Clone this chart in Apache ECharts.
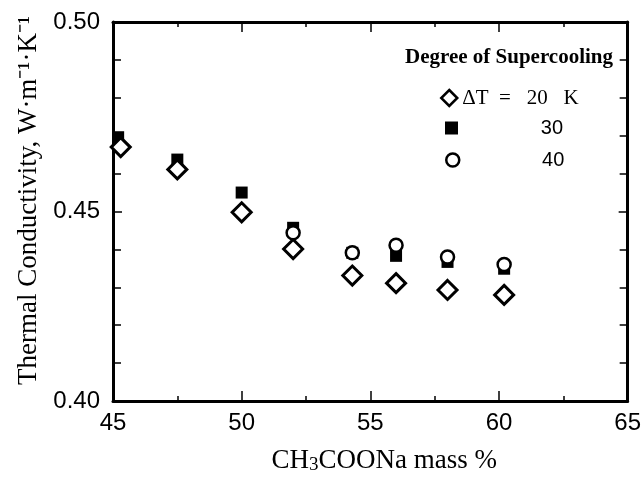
<!DOCTYPE html>
<html>
<head>
<meta charset="utf-8">
<script src="https://cdn.jsdelivr.net/npm/echarts@6/dist/echarts.min.js"></script>
<style>
  html, body { margin: 0; padding: 0; background: #fff; }
  #chart { width: 644px; height: 480px; }
</style>
</head>
<body>
<div id="chart"></div>
<script>
// ---- data ----
const seriesNames = ['ΔT = 20 K', '30', '40'];
const massPct20 = [45.3, 47.5, 50.0, 52.0, 54.3, 56.0, 58.0, 60.2];
const cond20    = [0.4670, 0.4611, 0.4498, 0.4401, 0.4331, 0.4311, 0.4293, 0.4280];
const massPct30 = [45.2, 47.5, 50.0, 52.0, 54.3, 56.0, 58.0, 60.2];
const cond30    = [0.4696, 0.4637, 0.4550, 0.4457, 0.4391, 0.4383, 0.4367, 0.4349];
const massPct40 = [52.0, 54.3, 56.0, 58.0, 60.2];
const cond40    = [0.4444, 0.4391, 0.4411, 0.4380, 0.4360];
const xTicks = { min: 45, max: 65, step: 5 };
const yTicks = { min: 0.40, max: 0.50, step: 0.05 };
const legendTitle = 'Degree of Supercooling';
const yName = 'Thermal Conductivity, W·m⁻¹·K⁻¹';

const pairs = (xs, ys) => xs.map((x, i) => [x, ys[i]]);

const serif = "'Liberation Serif', 'Times New Roman', serif";
const sans = "'Liberation Sans', Arial, sans-serif";
const black = '#000';

const chart = echarts.init(document.getElementById('chart'), null, { renderer: 'canvas' });

const axisLine = { show: true, onZero: false, lineStyle: { color: black, width: 3 } };

const option = {
  backgroundColor: '#fff',
  animation: false,
  title: {
    text: legendTitle,
    left: 405, top: 46, padding: 0,
    textStyle: { fontFamily: serif, fontSize: 21, fontWeight: 'bold', color: black, lineHeight: 24 }
  },
  grid: { left: 113, top: 22, right: 15, bottom: 69, containLabel: false },
  legend: [
    {
      data: [{ name: seriesNames[0], icon: 'diamond',
               itemStyle: { color: '#fff', borderColor: black, borderWidth: 2.5, opacity: 1 } }],
      left: 440, top: 87, padding: 0, itemWidth: 16, itemHeight: 16, itemGap: 0,
      textStyle: { fontFamily: serif, fontSize: 21, color: black, lineHeight: 22 },
      formatter: n => n.replace(' = ', '  =   ').replace('20 K', '20   K'),
      selectedMode: false
    },
    {
      data: [{ name: seriesNames[1], icon: 'rect', itemStyle: { color: black, borderWidth: 0, opacity: 1 } }],
      left: 445, top: 117, padding: 0, itemWidth: 13, itemHeight: 13,
      textStyle: { fontFamily: sans, fontSize: 20, color: black, lineHeight: 22,
        rich: { r: { fontFamily: sans, fontSize: 20, color: black, width: 100, align: 'right' } } },
      formatter: n => '{r|' + n + '}',
      selectedMode: false
    },
    {
      data: [{ name: seriesNames[2], icon: 'circle',
               itemStyle: { color: '#fff', borderColor: black, borderWidth: 2.5, opacity: 1 } }],
      left: 445, top: 149, padding: 0, itemWidth: 13, itemHeight: 13,
      textStyle: { fontFamily: sans, fontSize: 20, color: black, lineHeight: 22,
        rich: { r: { fontFamily: sans, fontSize: 20, color: black, width: 100, align: 'right' } } },
      formatter: n => '{r|' + n + '}',
      selectedMode: false
    }
  ],
  xAxis: [
    {
      type: 'value', position: 'bottom',
      min: xTicks.min, max: xTicks.max, interval: xTicks.step,
      axisLine: axisLine,
      axisTick: { show: true, inside: true, length: 10, lineStyle: { color: black, width: 1.5 } },
      minorTick: { show: true, splitNumber: 2, length: 5, lineStyle: { color: black, width: 1.5 } },
      splitLine: { show: false },
      axisLabel: { color: black, fontFamily: sans, fontSize: 24, margin: 10 },
      name: '{a|CH}{b|3}{a|COONa mass %}',
      nameLocation: 'middle', nameGap: 45,
      nameTextStyle: {
        padding: [0, 0, 0, 28],
        rich: {
          a: { fontFamily: serif, fontSize: 27, color: black },
          b: { fontFamily: serif, fontSize: 19, color: black, padding: [10, 0, 0, 0] }
        }
      }
    },
    {
      type: 'value', position: 'top',
      min: xTicks.min, max: xTicks.max, interval: xTicks.step,
      axisLine: axisLine,
      axisTick: { show: true, inside: true, length: 10, lineStyle: { color: black, width: 1.5 } },
      minorTick: { show: true, splitNumber: 2, length: 5, lineStyle: { color: black, width: 1.5 } },
      splitLine: { show: false },
      axisLabel: { show: false }
    }
  ],
  yAxis: [
    {
      type: 'value', position: 'left',
      min: yTicks.min, max: yTicks.max, interval: yTicks.step,
      axisLine: axisLine,
      axisTick: { show: true, inside: true, length: 9, lineStyle: { color: black, width: 1.5 } },
      minorTick: { show: true, splitNumber: 5, length: 8, lineStyle: { color: black, width: 1.5 } },
      splitLine: { show: false },
      axisLabel: { color: black, fontFamily: sans, fontSize: 24, margin: 13,
                   formatter: v => v.toFixed(2) },
      name: yName,
      nameLocation: 'middle', nameGap: 66,
      nameTextStyle: { fontFamily: serif, fontSize: 27, color: black, padding: [0, 0, 0, 22] }
    },
    {
      type: 'value', position: 'right',
      min: yTicks.min, max: yTicks.max, interval: yTicks.step,
      axisLine: axisLine,
      axisTick: { show: true, inside: true, length: 9, lineStyle: { color: black, width: 1.5 } },
      minorTick: { show: true, splitNumber: 5, length: 8, lineStyle: { color: black, width: 1.5 } },
      splitLine: { show: false },
      axisLabel: { show: false }
    }
  ],
  series: [
    {
      name: seriesNames[1], type: 'scatter', xAxisIndex: 0, yAxisIndex: 0,
      symbol: 'rect', symbolSize: 12, z: 2,
      itemStyle: { color: black, opacity: 1 },
      data: pairs(massPct30, cond30)
    },
    {
      name: seriesNames[0], type: 'scatter', xAxisIndex: 0, yAxisIndex: 0,
      symbol: 'diamond', symbolSize: 19, z: 3,
      itemStyle: { color: '#fff', borderColor: black, borderWidth: 3, opacity: 1 },
      data: pairs(massPct20, cond20)
    },
    {
      name: seriesNames[2], type: 'scatter', xAxisIndex: 0, yAxisIndex: 0,
      symbol: 'circle', symbolSize: 13, z: 4,
      itemStyle: { color: '#fff', borderColor: black, borderWidth: 2.5, opacity: 1 },
      data: pairs(massPct40, cond40)
    }
  ]
};

chart.setOption(option);
</script>
</body>
</html>
